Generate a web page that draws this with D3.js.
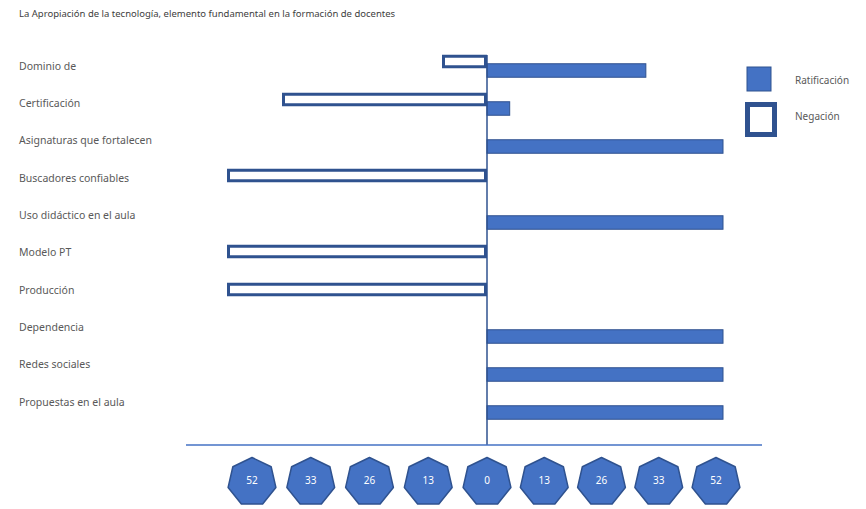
<!DOCTYPE html>
<html>
<head>
<meta charset="utf-8">
<script src="https://cdn.jsdelivr.net/npm/d3@7"></script>
<style>
  body { margin: 0; background: #fff; }
  text { font-family: "Noto Sans", "Open Sans", sans-serif; }
</style>
</head>
<body>
<div id="chart"></div>
<script>
'use strict'
var titulo = "La Apropiación de la tecnología, elemento fundamental en la formación de docentes";
var categorias = ["Dominio de", "Certificación", "Asignaturas que fortalecen", "Buscadores confiables",
	"Uso didáctico en el aula", "Modelo PT", "Producción", "Dependencia", "Redes sociales", "Propuestas en el aula"];
var ratificacion = [35, 5, 52, 0, 52, 0, 0, 52, 52, 52];
var negacion = [9, 41, 0, 52, 0, 52, 52, 0, 0, 0];
var tickValores = [-52, -39, -26, -13, 0, 13, 26, 39, 52];
var tickEtiquetas = ["52", "33", "26", "13", "0", "13", "26", "33", "52"];
var leyenda = ["Ratificación", "Negación"];

var w = 866, h = 509;
var azul = "#4472C4", azulOscuro = "#2F528F", gris = "#595959";

var svg = d3.select("#chart").append("svg").attr("width", w).attr("height", h);

// escalas: el dibujo original no es simétrico, por eso dominio en tres puntos
var x = d3.scaleLinear().domain([-52, 0, 52]).range([227, 487, 723]);
var xTicks = d3.scaleLinear().domain([-52, 0, 52]).range([252, 487, 716]);
var y = d3.scaleBand().domain(categorias).range([47, 427]);
var yLabel = d3.scalePoint().domain(categorias).range([67, 403]);
var barH = 13.5;

svg.append("text")
	.attr("x", 19).attr("y", 14)
	.attr("dominant-baseline", "middle")
	.style("font-size", "9.5px").style("fill", "#404040")
	.text(titulo);

svg.append("g").selectAll("text")
	.data(categorias)
	.enter().append("text")
	.attr("x", 19)
	.attr("y", function(d){ return yLabel(d); })
	.attr("dominant-baseline", "middle")
	.style("font-size", "10.5px").style("fill", gris)
	.text(function(d){ return d; });

// barras de negación (huecas)
svg.append("g").selectAll("rect")
	.data(categorias.map(function(c, i){ return {c: c, v: negacion[i]}; }).filter(function(d){ return d.v > 0; }))
	.enter().append("rect")
	.attr("x", function(d){ return x(-d.v) + 1.5; })
	.attr("y", function(d){ return y(d.c) + y.bandwidth()/2 - 4.5 - barH/2 + 1.5; })
	.attr("width", function(d){ return x(0) - x(-d.v) - 3; })
	.attr("height", barH - 3)
	.style("fill", "#fff")
	.style("stroke", azulOscuro)
	.style("stroke-width", 3);

// barras de ratificación
svg.append("g").selectAll("rect")
	.data(categorias.map(function(c, i){ return {c: c, v: ratificacion[i]}; }).filter(function(d){ return d.v > 0; }))
	.enter().append("rect")
	.attr("x", x(0))
	.attr("y", function(d){ return y(d.c) + y.bandwidth()/2 + 4.5 - barH/2; })
	.attr("width", function(d){ return x(d.v) - x(0); })
	.attr("height", barH)
	.style("fill", azul)
	.style("stroke", azulOscuro)
	.style("stroke-width", 1);

// ejes
svg.append("line")
	.attr("x1", x(0)).attr("x2", x(0))
	.attr("y1", 55).attr("y2", 445)
	.style("stroke", azulOscuro).style("stroke-width", 1.5);
svg.append("line")
	.attr("x1", 186).attr("x2", 762)
	.attr("y1", 445).attr("y2", 445)
	.style("stroke", azul).style("stroke-width", 1.5);

// marcas en heptágonos
function heptagono(r){
	var pts = [];
	for (var k = 0; k < 7; k++){
		var a = -Math.PI/2 + k * 2 * Math.PI / 7;
		pts.push([r * Math.cos(a), r * Math.sin(a)]);
	}
	return pts.map(function(p){ return p.join(","); }).join(" ");
}
var ticks = svg.append("g").selectAll("g")
	.data(tickValores)
	.enter().append("g")
	.attr("transform", function(d){ return "translate(" + xTicks(d) + ",482)"; });
ticks.append("polygon")
	.attr("points", heptagono(24.5))
	.style("fill", azul)
	.style("stroke", azulOscuro)
	.style("stroke-width", 1.5)
	.style("stroke-linejoin", "round");
ticks.append("text")
	.attr("text-anchor", "middle")
	.attr("dominant-baseline", "middle")
	.attr("y", -1)
	.style("font-size", "10px").style("fill", "#fff")
	.text(function(d, i){ return tickEtiquetas[i]; });

// leyenda
var lg = svg.append("g");
lg.append("rect")
	.attr("x", 747).attr("y", 67).attr("width", 24).attr("height", 24)
	.style("fill", azul).style("stroke", azulOscuro).style("stroke-width", 1);
lg.append("rect")
	.attr("x", 747.5).attr("y", 104.5).attr("width", 27).attr("height", 30)
	.style("fill", "#fff").style("stroke", azulOscuro).style("stroke-width", 5);
lg.selectAll("text")
	.data(leyenda)
	.enter().append("text")
	.attr("x", 795)
	.attr("y", function(d, i){ return i === 0 ? 81 : 117; })
	.attr("dominant-baseline", "middle")
	.style("font-size", "10px").style("fill", gris)
	.text(function(d){ return d; });
</script>
</body>
</html>
